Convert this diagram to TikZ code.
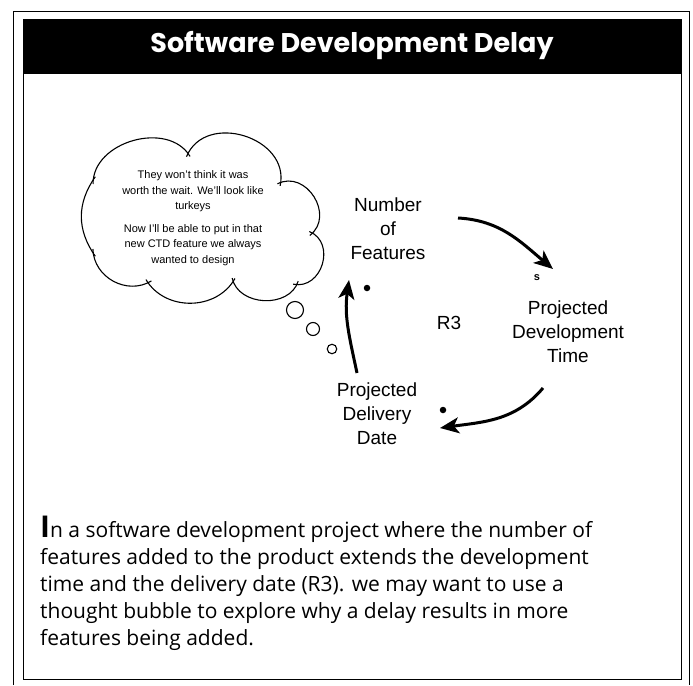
\documentclass[tikz,border=0pt]{standalone}
\usepackage{fontspec}
\setmainfont{Liberation Sans}
\newfontfamily\titlefont{Poppins}
\newfontfamily\parafont{Open Sans}
\usetikzlibrary{arrows.meta}
\begin{document}
\begin{tikzpicture}[x=1pt,y=1pt,
  frameline/.style={line width=0.9pt},
  cloudline/.style={line width=1.1pt, shorten <=-4pt, shorten >=-4pt},
  loopar/.style={line width=3pt, -{Stealth[length=19pt,width=16pt,inset=5pt]}},
  lbl/.style={font=\fontsize{19}{24}\selectfont, align=center, inner sep=0pt},
  dotm/.style={circle, fill=black, inner sep=0pt, minimum size=6.5pt},
  bubble/.style={circle, draw=black, line width=1.1pt, inner sep=0pt},
  para/.style={font=\parafont\fontsize{21}{27}\selectfont, anchor=base west, inner sep=0pt}
]
\useasboundingbox (0,0) rectangle (693,-685);
\fill[white] (0,0) rectangle (693,-685);
% frames
\draw[frameline] (13,-685) -- (13,-11) -- (689,-11) -- (689,-685);
\draw[frameline] (23,-19) rectangle (681,-679);
\fill[black] (23,-19) rectangle (681,-74);
\node[text=white, font=\titlefont\bfseries\fontsize{27}{27}\selectfont] (title) at (352,-46) {Software Development Delay};

% cloud
\coordinate (J1) at (93,-180);
\coordinate (J2) at (188,-153);
\coordinate (J3) at (281,-182);
\coordinate (J4) at (313,-233);
\coordinate (J5) at (297,-285);
\coordinate (J6) at (233,-282);
\coordinate (J7) at (148,-283);
\coordinate (J8) at (93,-253);
\draw[cloudline] (J1) to[bend left=75] (J2);
\draw[cloudline] (J2) to[bend left=85, looseness=1.2] (J3);
\draw[cloudline] (J3) to[bend left=85, looseness=1.2] (J4);
\draw[cloudline] (J4) to[bend left=85, looseness=1.2] (J5);
\draw[cloudline] (J5) to[bend left=75] (J6);
\draw[cloudline] (J6) to[bend left=60] (J7);
\draw[cloudline] (J7) to[bend left=60] (J8);
\draw[cloudline] (J8) to[bend left=35] (J1);
\node[font=\fontsize{11}{15.5}\selectfont, align=center, inner sep=0pt] (thought) at (193,-218)
  {They won't think it was\\worth the wait. We'll look like\\turkeys\\[7pt]Now I'll be able to put in that\\new CTD feature we always\\wanted to design};
\node[bubble, minimum size=17pt] (b1) at (295,-310) {};
\node[bubble, minimum size=13pt] (b2) at (313,-329) {};
\node[bubble, minimum size=9.5pt] (b3) at (332,-349) {};

% loop
\node[lbl] (nf) at (388,-229) {Number\\of\\Features};
\node[lbl] (pdt) at (568,-332) {Projected\\Development\\Time};
\node[lbl] (pdd) at (377,-414) {Projected\\Delivery\\Date};
\node[font=\fontsize{19}{19}\selectfont, inner sep=0pt] (r3) at (449,-323) {R3};

\coordinate (a1s) at (458,-218);
\coordinate (a1e) at (553,-269);
\coordinate (a2s) at (543,-388);
\coordinate (a2e) at (440,-428);
\coordinate (a3s) at (357,-373);
\coordinate (a3e) at (349,-280);
\draw[loopar] (a1s) to[out=-3, in=140] (a1e);
\draw[loopar] (a2s) to[out=-130, in=8] (a2e);
\draw[loopar] (a3s) to[out=102, in=-98] (a3e);
\node[font=\bfseries\fontsize{11}{11}\selectfont, inner sep=0pt] (s1) at (537,-278) {s};
\node[dotm] (d2) at (443,-410) {};
\node[dotm] (d3) at (367,-288) {};

% paragraph
\node[para] (p1) at (40,-537) {{\fontsize{30}{30}\selectfont\bfseries I}n a software development project where the number of};
\node[para] (p2) at (40,-564) {features added to the product extends the development};
\node[para] (p3) at (40,-591) {time and the delivery date (R3). we may want to use a};
\node[para] (p4) at (40,-618) {thought bubble to explore why a delay results in more};
\node[para] (p5) at (40,-645) {features being added.};
\end{tikzpicture}
\end{document}
